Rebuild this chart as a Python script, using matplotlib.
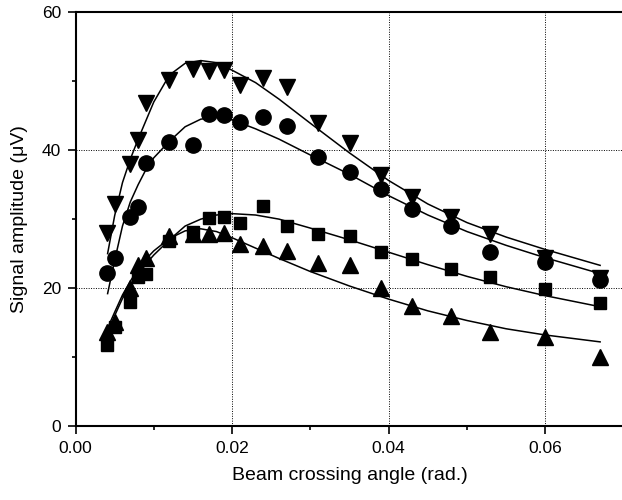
import numpy as np
import matplotlib
matplotlib.use("Agg")
import matplotlib.pyplot as plt

plt.rcParams['font.family'] = ['Liberation Sans', 'DejaVu Sans']

# measured crossing angles (rad.)
angle = [0.004, 0.005, 0.007, 0.008, 0.009, 0.012, 0.015, 0.017, 0.019, 0.021,
         0.024, 0.027, 0.031, 0.035, 0.039, 0.043, 0.048, 0.053, 0.060, 0.067]

# signal amplitudes (uV) for the four runs
amp_tri_down = [28.0, 32.2, 38.0, 41.5, 46.8, 50.2, 51.8, 51.5, 51.7, 49.4,
                50.4, 49.1, 43.9, 41.0, 36.4, 33.2, 30.3, 27.8, 24.3, 21.5]
amp_circle = [22.2, 24.3, 30.3, 31.8, 38.2, 41.2, 40.7, 45.3, 45.1, 44.1,
              44.8, 43.5, 39.0, 36.9, 34.4, 31.5, 29.0, 25.2, 23.8, 21.2]
amp_square = [11.7, 14.4, 18.0, 21.6, 22.1, 26.8, 28.2, 30.1, 30.3, 29.4,
              31.9, 29.0, 27.9, 27.6, 25.2, 24.2, 22.7, 21.6, 19.8, 17.9]
amp_tri_up = [13.7, 15.1, 20.0, 23.3, 24.4, 27.5, 27.9, 27.9, 28.0, 26.4,
              26.1, 25.4, 23.6, 23.3, 20.0, 17.4, 15.9, 13.7, 12.9, 10.0]

# fitted curves, sampled along the angle axis
fit_x = [0.0036, 0.0041, 0.005, 0.006, 0.007, 0.008, 0.009, 0.010, 0.012, 0.014,
         0.016, 0.018, 0.020, 0.023, 0.026, 0.030, 0.035, 0.040, 0.045, 0.050,
         0.055, 0.060, 0.067]
fit_tri_down = [None, 25.0, 30.5, 35.3, 38.7, 41.6, 44.3, 47.0, 50.9, 52.6,
                53.0, 52.7, 51.6, 49.8, 47.4, 43.9, 39.6, 35.6, 32.2, 29.5,
                27.4, 25.6, 23.3]
fit_circle = [None, 19.2, 24.0, 29.0, 32.5, 35.0, 37.2, 38.9, 41.3, 43.4,
              44.5, 44.8, 44.4, 43.1, 41.6, 39.3, 36.5, 33.4, 30.6, 28.2,
              26.2, 24.4, 22.1]
fit_square = [12.5, 13.5, 16.0, 18.5, 20.3, 22.0, 23.5, 24.8, 27.0, 29.0,
              30.0, 30.6, 30.8, 30.6, 30.0, 28.7, 27.0, 25.2, 23.4, 21.7,
              20.2, 18.9, 17.3]
fit_tri_up = [13.2, 14.2, 16.5, 19.0, 21.0, 22.8, 24.2, 25.4, 27.2, 28.3,
              28.6, 28.2, 27.3, 25.8, 24.3, 22.4, 20.3, 18.4, 16.7, 15.3,
              14.1, 13.2, 12.2]

fig = plt.figure(figsize=(6.22, 5.0), dpi=100)
ax = fig.add_axes([75.5 / 622, 74 / 500, 548.1 / 622, 413.7 / 500])

for fy in (fit_tri_down, fit_circle, fit_square, fit_tri_up):
    xs = [x for x, y in zip(fit_x, fy) if y is not None]
    ys = [y for y in fy if y is not None]
    ax.plot(xs, ys, color='black', lw=1.1, zorder=2)

ax.plot(angle, amp_tri_down, 'v', color='black', ms=11, zorder=3)
ax.plot(angle, amp_circle, 'o', color='black', ms=11, zorder=3)
ax.plot(angle, amp_square, 's', color='black', ms=9, zorder=3)
ax.plot(angle, amp_tri_up, '^', color='black', ms=11, zorder=3)

ax.set_xlim(0, 0.07)
ax.set_ylim(0, 60)
ax.set_xticks([0.00, 0.02, 0.04, 0.06])
ax.set_xticklabels(['0.00', '0.02', '0.04', '0.06'])
ax.set_xticks([0.01, 0.03, 0.05], minor=True)
ax.set_yticks([0, 20, 40, 60])
ax.set_yticks([10, 30, 50], minor=True)

ax.grid(True, which='major', linestyle=(0, (1, 1.5)), color='black', lw=0.7)
ax.set_axisbelow(True)
for side in ('left', 'bottom', 'top'):
    ax.spines[side].set_linewidth(1.5)
ax.spines['right'].set_visible(False)

ax.tick_params(which='major', direction='out', length=5.5, width=1.2,
               labelsize=12.5, pad=5)
ax.tick_params(which='minor', direction='out', length=3, width=1.2)
ax.tick_params(top=False, right=False)

ax.set_xlabel('Beam crossing angle (rad.)', fontsize=14, labelpad=8)
ax.set_ylabel('Signal amplitude (\u03bcV)', fontsize=14, labelpad=10)

fig.savefig('out.png', dpi=100)
